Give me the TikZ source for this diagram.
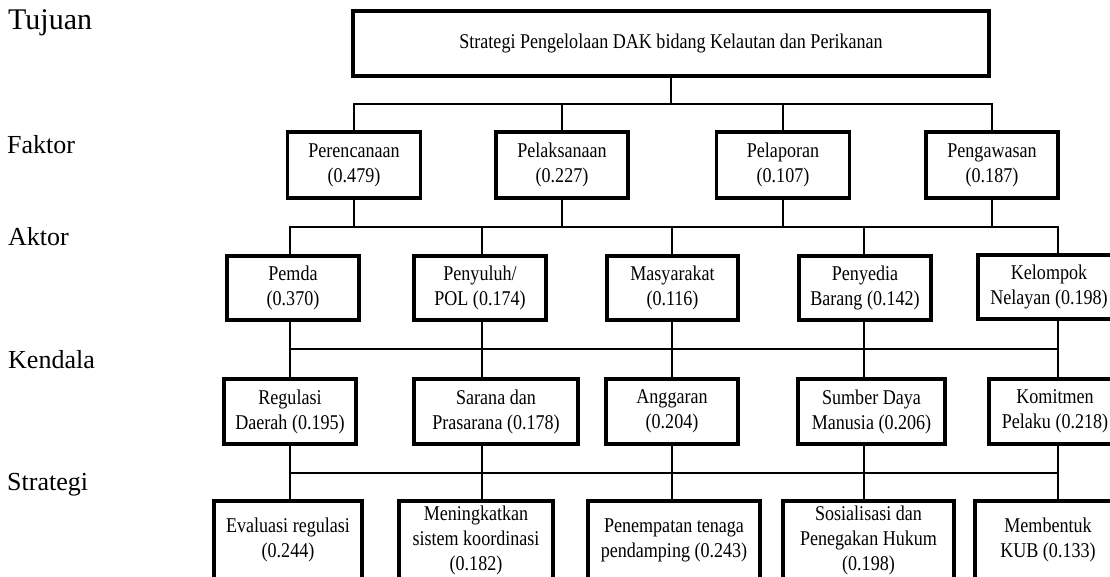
\documentclass[tikz,border=0pt]{standalone}
\usepackage{fontspec}
\setmainfont{Liberation Serif}
\newfontfamily\boxfont[FakeStretch=0.86]{Liberation Serif}
\usepackage{tikz}

\begin{document}
\begin{tikzpicture}[x=1pt, y=-1pt,
            box/.style={draw, line width=3.2pt, inner sep=0pt, align=center,
                font=\boxfont\fontsize{21}{25}\selectfont},
            link/.style={line width=2.7pt, line cap=rect},
            level/.style={anchor=base west, inner sep=0pt,
                font=\fontsize{26}{30}\selectfont}]
            \useasboundingbox (0, 0) rectangle (1110, 576);
            \clip (0, 0) rectangle (1110, 576);
            % left column
            \node[level, font=\fontsize{30}{34}\selectfont](21) at (8, 29) {Tujuan};
            \node[level](22) at (7, 153) {Faktor};
            \node[level](23) at (8, 245) {Aktor};
            \node[level](24) at (8, 368) {Kendala};
            \node[level](25) at (7, 490) {Strategi};
            % bus heights and columns
            \coordinate(b1) at (0, 104);
            \coordinate(b2) at (0, 227);
            \coordinate(b3) at (0, 349);
            \coordinate(b4) at (0, 473);
            \coordinate(c1) at (290, 0);
            \coordinate(c2) at (482, 0);
            \coordinate(c3) at (672, 0);
            \coordinate(c4) at (864, 0);
            \coordinate(c5) at (1058, 0);
            % tujuan
            \node[box, minimum width=636pt, minimum height=65pt](1) at (671, 43.5) {Strategi Pengelolaan DAK bidang Kelautan dan Perikanan};
            % faktor
            \node[box, minimum width=133pt, minimum height=66pt](2) at (354, 165) {Perencanaan\\(0.479)};
            \node[box, minimum width=132pt, minimum height=66pt](3) at (562, 165) {Pelaksanaan\\(0.227)};
            \node[box, minimum width=133pt, minimum height=66pt](4) at (783, 165) {Pelaporan\\(0.107)};
            \node[box, minimum width=132pt, minimum height=66pt](5) at (992, 165) {Pengawasan\\(0.187)};
            \draw[link] (1.south) -- (1.south |- b1);
            \draw[link] (2.north |- b1) -- (5.north |- b1);
            \foreach \n in {2,...,5}
                \draw[link] (\n.north) -- (\n.north |- b1) (\n.south) -- (\n.south |- b2);
            % aktor
            \node[box, minimum width=132pt, minimum height=64pt](6) at (293, 288) {Pemda\\(0.370)};
            \node[box, minimum width=132pt, minimum height=64pt](7) at (480, 288) {Penyuluh/\\POL (0.174)};
            \node[box, minimum width=131pt, minimum height=64pt](8) at (672.5, 288) {Masyarakat\\(0.116)};
            \node[box, minimum width=132pt, minimum height=64pt](9) at (865, 288) {Penyedia\\Barang (0.142)};
            \node[box, minimum width=142pt, minimum height=64pt](10) at (1049, 287) {Kelompok\\Nelayan (0.198)};
            % kendala
            \node[box, minimum width=132pt, minimum height=65pt](11) at (290, 411.5) {Regulasi\\Daerah (0.195)};
            \node[box, minimum width=164pt, minimum height=65pt](12) at (496, 411.5) {Sarana dan\\Prasarana (0.178)};
            \node[box, minimum width=132pt, minimum height=65pt](13) at (672, 411.5) {Anggaran\\(0.204)};
            \node[box, minimum width=147pt, minimum height=65pt](14) at (871.5, 411.5) {Sumber Daya\\Manusia (0.206)};
            \node[box, minimum width=132pt, minimum height=65pt](15) at (1055, 411.5) {Komitmen\\Pelaku (0.218)};
            % strategi
            \node[box, minimum width=148pt, minimum height=78pt](16) at (288, 540) {Evaluasi regulasi\\(0.244)};
            \node[box, minimum width=154pt, minimum height=78pt](17) at (476, 540) {Meningkatkan\\sistem koordinasi\\(0.182)};
            \node[box, minimum width=172pt, minimum height=78pt](18) at (674, 540) {Penempatan tenaga\\pendamping (0.243)};
            \node[box, minimum width=171pt, minimum height=78pt](19) at (868.5, 540) {Sosialisasi dan\\Penegakan Hukum\\(0.198)};
            \node[box, minimum width=146pt, minimum height=78pt](20) at (1048, 540) {Membentuk\\KUB (0.133)};
            % buses and columns
            \draw[link] (c1 |- b2) -- (c5 |- b2);
            \draw[link] (c1 |- b3) -- (c5 |- b3);
            \draw[link] (c1 |- b4) -- (c5 |- b4);
            \foreach \col/\a/\k/\s in {c1/6/11/16, c2/7/12/17, c3/8/13/18, c4/9/14/19, c5/10/15/20}
                \draw[link] (\col |- b2) -- (\col |- \a.north)
                    (\col |- \a.south) -- (\col |- \k.north)
                    (\col |- \k.south) -- (\col |- \s.north);
        \end{tikzpicture}
\end{document}
